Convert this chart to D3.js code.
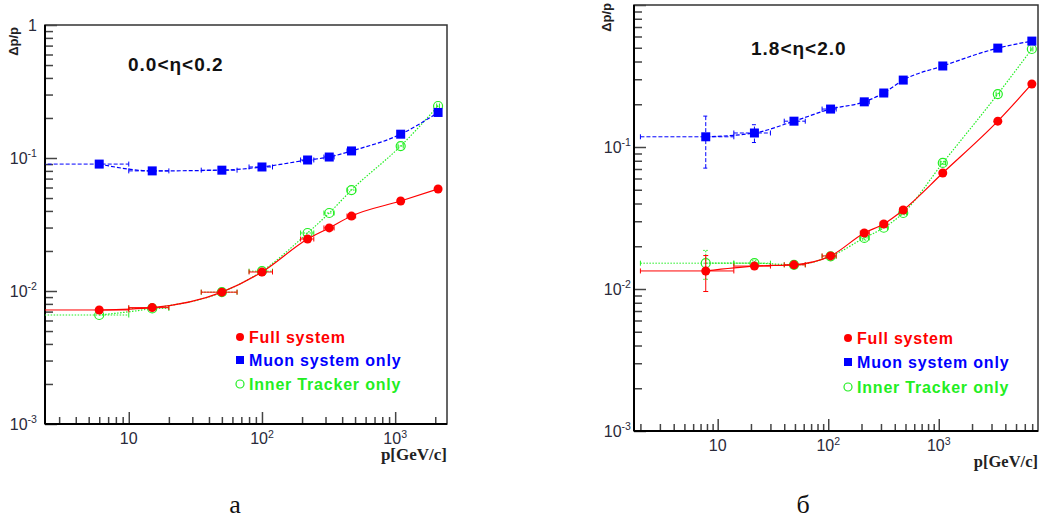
<!DOCTYPE html>
<html>
<head>
<meta charset="utf-8">
<script src="https://cdn.jsdelivr.net/npm/d3@7"></script>
<style>
  body { margin: 0; background: #fff; }
  svg { display: block; }
</style>
</head>
<body>
<div id="chart"></div>
<script>
// panel a : 0.0<eta<0.2
const pA = [6, 15, 50, 100, 220, 320, 470, 1100, 2100];
const pLoA = [2, 10, 35, 80, 195, 292, 435, 1050, 2050];
const pHiA = [10, 20, 65, 120, 245, 348, 505, 1150, 2150];
const fullA = [0.0072, 0.0075, 0.0098, 0.0139, 0.0246, 0.0298, 0.0366, 0.0475, 0.0585];
const muonA = [0.090, 0.080, 0.081, 0.0856, 0.0966, 0.1017, 0.113, 0.151, 0.220];
const innerA = [0.0066, 0.0074, 0.0098, 0.0141, 0.0273, 0.0386, 0.0574, 0.123, 0.246];

// panel b : 1.8<eta<2.0
const pB = [7.8, 21.5, 49, 105, 212, 318, 477, 1087, 3420, 6950];
const pLoB = [2, 14, 40, 88, 195, 295, 445, 1030, 3300, 6800];
const pHiB = [14, 30, 62, 118, 235, 345, 510, 1150, 3550, 7100];
const fullB = [0.0134, 0.0145, 0.0148, 0.0171, 0.0248, 0.0287, 0.0360, 0.0656, 0.152, 0.278];
const fullErrB = [0.0038, 0.0006, 0.0004, 0.0005, 0.0008, 0.0008, 0.001, 0.001, 0, 0];
const muonB = [0.118, 0.1255, 0.152, 0.185, 0.208, 0.240, 0.296, 0.372, 0.497, 0.557];
const muonErrB = [0.047, 0.018, 0.004, 0.008, 0.006, 0.006, 0.01, 0.008, 0, 0];
const innerB = [0.0152, 0.0152, 0.0148, 0.0170, 0.0229, 0.0270, 0.0343, 0.0772, 0.236, 0.490];
const innerErrB = [0.0035, 0.0006, 0, 0, 0.0008, 0, 0.001, 0.002, 0, 0];

const legendLabels = ["Full system", "Muon system only", "Inner Tracker only"];
const yMajor = [1e-3, 1e-2, 1e-1, 1];
const yMajorLabels = [["10", "-3"], ["10", "-2"], ["10", "-1"], ["1", ""]];
const xMajor = [10, 100, 1000];
const xMajorLabels = [["10", ""], ["10", "2"], ["10", "3"]];

const RED = "#ff0000", BLUE = "#0000ff", GREEN = "#22ee22";

const svg = d3.select("#chart").append("svg")
    .attr("width", 1042)
    .attr("height", 522);

function drawPanel(cfg) {
    const g = svg.append("g");
    const x = d3.scaleLog().domain(cfg.xDomain).range([cfg.left, cfg.right]);
    const y = d3.scaleLog().domain([1e-3, 1]).range([cfg.bottom, cfg.top]);

    const clipId = "clip" + cfg.id;
    svg.append("clipPath").attr("id", clipId)
        .append("rect")
        .attr("x", cfg.left).attr("y", cfg.top)
        .attr("width", cfg.right - cfg.left).attr("height", cfg.bottom - cfg.top);

    // frame
    g.append("rect")
        .attr("x", cfg.left).attr("y", cfg.top)
        .attr("width", cfg.right - cfg.left).attr("height", cfg.bottom - cfg.top)
        .attr("fill", "none").attr("stroke", "#333").attr("stroke-width", 1.5);

    // minor ticks
    const yMinor = [];
    [1e-3, 1e-2, 1e-1].forEach(d => { for (let k = 2; k <= 9; k++) yMinor.push(d * k); });
    const xMinor = [];
    [1, 10, 100, 1000].forEach(d => { for (let k = 2; k <= 9; k++) { const v = d * k; if (v >= cfg.xDomain[0] && v <= cfg.xDomain[1]) xMinor.push(v); } });

    g.append("g").attr("transform", `translate(${cfg.left},0)`)
        .call(d3.axisLeft(y).tickValues(yMinor).tickSize(-8).tickFormat("").tickSizeOuter(0))
        .call(s => s.select(".domain").remove())
        .call(s => s.selectAll("line").attr("stroke", "#444").attr("stroke-width", 1.5));
    g.append("g").attr("transform", `translate(${cfg.left},0)`)
        .call(d3.axisLeft(y).tickValues(yMajor).tickSize(-12).tickFormat("").tickSizeOuter(0))
        .call(s => s.select(".domain").remove())
        .call(s => s.selectAll("line").attr("stroke", "#444").attr("stroke-width", 1.5));
    g.append("g").attr("transform", `translate(0,${cfg.bottom})`)
        .call(d3.axisBottom(x).tickValues(xMinor).tickSize(-7).tickFormat("").tickSizeOuter(0))
        .call(s => s.select(".domain").remove())
        .call(s => s.selectAll("line").attr("stroke", "#444").attr("stroke-width", 1.5));
    g.append("g").attr("transform", `translate(0,${cfg.bottom})`)
        .call(d3.axisBottom(x).tickValues(xMajor).tickSize(-12).tickFormat("").tickSizeOuter(0))
        .call(s => s.select(".domain").remove())
        .call(s => s.selectAll("line").attr("stroke", "#444").attr("stroke-width", 1.5));

    // main axis lines
    g.append("line").attr("x1", cfg.left).attr("x2", cfg.left).attr("y1", cfg.top).attr("y2", cfg.bottom)
        .attr("stroke", "#000").attr("stroke-width", 2);
    g.append("line").attr("x1", cfg.left).attr("x2", cfg.right).attr("y1", cfg.bottom).attr("y2", cfg.bottom)
        .attr("stroke", "#000").attr("stroke-width", 2);

    // tick labels
    const lab = g.append("g").attr("font-family", "'Liberation Sans', Arial, sans-serif")
        .attr("fill", "#2a2a3a");
    yMajor.forEach((v, i) => {
        if (cfg.hideOne && v === 1) return;
        const t = lab.append("text")
            .attr("x", cfg.left - cfg.yLabelGap).attr("y", y(v) + 6)
            .attr("text-anchor", "end").attr("font-size", cfg.tickFont);
        t.append("tspan").text(yMajorLabels[i][0]);
        if (yMajorLabels[i][1]) t.append("tspan").attr("dy", -7).attr("font-size", cfg.tickFont * 0.66).text(yMajorLabels[i][1]);
    });
    xMajor.forEach((v, i) => {
        const t = lab.append("text")
            .attr("x", x(v)).attr("y", cfg.bottom + 20)
            .attr("text-anchor", "middle").attr("font-size", cfg.tickFont);
        t.append("tspan").text(xMajorLabels[i][0]);
        if (xMajorLabels[i][1]) t.append("tspan").attr("dy", -6).attr("font-size", cfg.tickFont * 0.66).text(xMajorLabels[i][1]);
    });

    // axis titles
    g.append("text")
        .attr("transform", `translate(${cfg.yTitleX},${cfg.top + cfg.yTitleDy}) rotate(-90)`)
        .attr("text-anchor", "end")
        .attr("font-family", "'Liberation Sans', Arial, sans-serif")
        .attr("font-weight", "bold").attr("font-size", 13).attr("fill", "#222")
        .text("\u0394p/p");
    g.append("text")
        .attr("x", cfg.right).attr("y", cfg.xTitleY)
        .attr("text-anchor", "end")
        .attr("font-family", "'Liberation Serif', 'Times New Roman', serif")
        .attr("font-weight", "bold").attr("font-size", cfg.xTitleFont).attr("fill", "#222")
        .text("p[GeV/c]");

    // eta range label
    g.append("text")
        .attr("x", cfg.titleX).attr("y", cfg.titleY)
        .attr("font-family", "'Liberation Sans', Arial, sans-serif")
        .attr("font-weight", "bold").attr("font-size", 19).attr("letter-spacing", 1)
        .attr("fill", "#111")
        .text(cfg.title);

    // data
    const plot = g.append("g").attr("clip-path", `url(#${clipId})`);
    const line = d3.line().x(d => x(d.p)).y(d => y(d.v)).curve(d3.curveMonotoneX);

    cfg.series.forEach(s => {
        const pts = s.values.map((v, i) => ({ p: cfg.p[i], v: v, lo: cfg.pLo[i], hi: cfg.pHi[i], e: s.err ? s.err[i] : 0 }));
        const sg = plot.append("g");
        sg.append("path").datum(pts)
            .attr("d", line)
            .attr("fill", "none").attr("stroke", s.color).attr("stroke-width", 1.2)
            .attr("stroke-dasharray", s.dash);
        // x error bars
        sg.selectAll(".xe").data(pts).enter().append("line")
            .attr("x1", d => x(d.lo)).attr("x2", d => x(d.hi))
            .attr("y1", d => y(d.v)).attr("y2", d => y(d.v))
            .attr("stroke", s.color).attr("stroke-width", 1).attr("stroke-dasharray", s.dash);
        sg.selectAll(".xc").data(pts).enter().append("path")
            .attr("d", d => `M${x(d.lo)},${y(d.v) - 2.5}v5M${x(d.hi)},${y(d.v) - 2.5}v5`)
            .attr("stroke", s.color).attr("stroke-width", 1);
        // y error bars
        sg.selectAll(".ye").data(pts.filter(d => d.e > 0)).enter().append("path")
            .attr("d", d => `M${x(d.p)},${y(d.v - d.e)}V${y(d.v + d.e)}M${x(d.p) - 2.5},${y(d.v - d.e)}h5M${x(d.p) - 2.5},${y(d.v + d.e)}h5`)
            .attr("fill", "none").attr("stroke", s.color).attr("stroke-width", 1).attr("stroke-dasharray", s.dash);
        // markers
        if (s.marker === "square") {
            sg.selectAll(".m").data(pts).enter().append("rect")
                .attr("x", d => x(d.p) - 4.5).attr("y", d => y(d.v) - 4.5)
                .attr("width", 9).attr("height", 9).attr("fill", s.color);
        } else if (s.marker === "circle") {
            sg.selectAll(".m").data(pts).enter().append("circle")
                .attr("cx", d => x(d.p)).attr("cy", d => y(d.v)).attr("r", 4.5)
                .attr("fill", s.color);
        } else {
            sg.selectAll(".m").data(pts).enter().append("circle")
                .attr("cx", d => x(d.p)).attr("cy", d => y(d.v)).attr("r", 4.5)
                .attr("fill", "none").attr("stroke", s.color).attr("stroke-width", 1.2);
        }
    });

    // legend
    const leg = g.append("g");
    const legColors = [RED, BLUE, GREEN];
    legendLabels.forEach((txt, i) => {
        const cy = cfg.legY[i];
        if (i === 0) leg.append("circle").attr("cx", cfg.legX).attr("cy", cy).attr("r", 4).attr("fill", RED);
        if (i === 1) leg.append("rect").attr("x", cfg.legX - 4).attr("y", cy - 4).attr("width", 8).attr("height", 8).attr("fill", BLUE);
        if (i === 2) leg.append("circle").attr("cx", cfg.legX).attr("cy", cy).attr("r", 4).attr("fill", "none").attr("stroke", GREEN).attr("stroke-width", 1.2);
        leg.append("text")
            .attr("x", cfg.legX + 9).attr("y", cy + 6)
            .attr("font-family", "'Liberation Sans', Arial, sans-serif")
            .attr("font-weight", "bold").attr("font-size", 16).attr("letter-spacing", 0.8)
            .attr("fill", legColors[i])
            .text(txt);
    });

    // caption
    svg.append("text")
        .attr("x", cfg.captionX).attr("y", 513)
        .attr("text-anchor", "middle")
        .attr("font-family", "'Liberation Serif', 'Times New Roman', serif")
        .attr("font-size", 26).attr("fill", "#111")
        .text(cfg.caption);
}

drawPanel({
    id: "a", left: 45, right: 447, top: 25, bottom: 424,
    xDomain: [2.35, 2450], p: pA, pLo: pLoA, pHi: pHiA,
    series: [
        { values: innerA, color: GREEN, dash: "1.5,1.5", marker: "open" },
        { values: fullA, color: RED, dash: null, marker: "circle" },
        { values: muonA, color: BLUE, dash: "4,2", marker: "square" }
    ],
    tickFont: 16, yLabelGap: 8, hideOne: false,
    yTitleX: 18, yTitleDy: 2, xTitleY: 460, xTitleFont: 17,
    title: "0.0<\u03b7<0.2", titleX: 128, titleY: 71,
    legX: 240, legY: [337, 360, 384],
    caption: "\u0430", captionX: 235
});

drawPanel({
    id: "b", left: 634, right: 1038, top: 5, bottom: 431,
    xDomain: [1.75, 7900], p: pB, pLo: pLoB, pHi: pHiB,
    series: [
        { values: innerB, err: innerErrB, color: GREEN, dash: "1.5,1.5", marker: "open" },
        { values: fullB, err: fullErrB, color: RED, dash: null, marker: "circle" },
        { values: muonB, err: muonErrB, color: BLUE, dash: "4,2", marker: "square" }
    ],
    tickFont: 16, yLabelGap: 3, hideOne: true,
    yTitleX: 611, yTitleDy: -2, xTitleY: 467, xTitleFont: 16.5,
    title: "1.8<\u03b7<2.0", titleX: 751, titleY: 55,
    legX: 848, legY: [338, 362, 387],
    caption: "\u0431", captionX: 803
});
</script>
</body>
</html>
